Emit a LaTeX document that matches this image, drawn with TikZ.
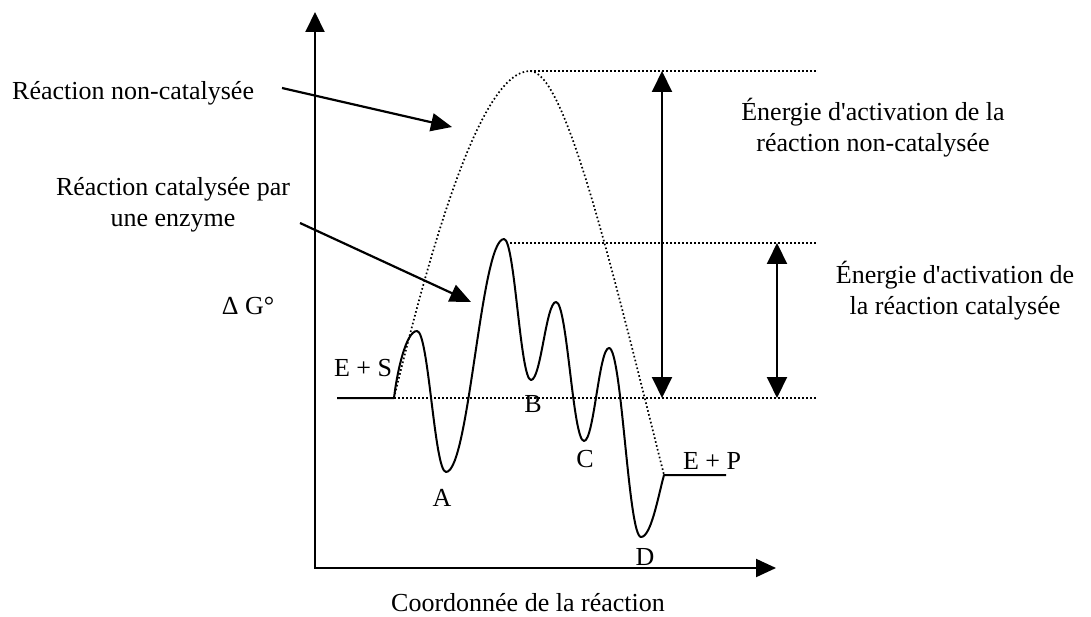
\documentclass[tikz,border=0pt]{standalone}
\usepackage{fontspec}
\setmainfont{Liberation Serif}[Ligatures=TeXOff]
\usetikzlibrary{arrows.meta}
\begin{document}
\begin{tikzpicture}[x=1pt,y=-1pt,
  lbl/.style={inner sep=0pt, font=\fontsize{26}{31}\selectfont},
  axes/.style={line width=2pt, {Triangle[length=20pt,width=19pt]}-{Triangle[length=20pt,width=18pt]}},
  solidc/.style={line width=2pt, line join=round},
  dotc/.style={line width=1.7pt, dash pattern=on 1.6pt off 2.4pt},
  dbl/.style={line width=2pt, {Triangle[length=21pt,width=20pt]}-{Triangle[length=21pt,width=20pt]}},
  ptr/.style={line width=2.2pt, -{Triangle[length=21pt,width=18pt]}}]

\useasboundingbox (0,0) rectangle (1091,617);

% axes
\coordinate (o) at (315,568);
\coordinate (ytip) at (315,12);
\coordinate (xtip) at (776,568);
\draw[axes] (ytip) -- (o) -- (xtip);

% curve points
\coordinate (s0) at (337,398);
\coordinate (s1) at (394,398);
\coordinate (p1) at (417,331);
\coordinate (a) at (446,472);
\coordinate (p2) at (504,239);
\coordinate (b) at (531,380);
\coordinate (p3) at (556,302);
\coordinate (c) at (584,441);
\coordinate (p4) at (609,348);
\coordinate (d) at (641,537);
\coordinate (e) at (664,475);
\coordinate (e2) at (726,475);

% catalysed (solid) curve
\draw[solidc] (s0) -- (s1)
  .. controls (397,372) and (406,331) .. (p1)
  .. controls (428.6,331) and (434.4,472) .. (a)
  .. controls (469.2,472) and (480.8,239) .. (p2)
  .. controls (514.8,239) and (520.2,380) .. (b)
  .. controls (541,380) and (546,302) .. (p3)
  .. controls (567.2,302) and (572.8,441) .. (c)
  .. controls (594,441) and (599,348) .. (p4)
  .. controls (621.8,348) and (628.2,537) .. (d)
  .. controls (651,537) and (658,497) .. (e) -- (e2);

% non-catalysed (dotted) curve
\coordinate (top) at (530,71);
\draw[dotc] (s1) .. controls (430,250) and (480,71) .. (top)
  .. controls (565,71) and (610,260) .. (e);

% dotted level lines
\coordinate (topR) at (817,71);
\coordinate (midL) at (510,243);
\coordinate (midR) at (817,243);
\coordinate (baseR) at (817,398);
\draw[dotc] (top) -- (topR);
\draw[dotc] (midL) -- (midR);
\draw[dotc] (s1) -- (baseR);

% double arrows
\coordinate (u1) at (662,71);
\coordinate (u2) at (662,398);
\coordinate (v1) at (777,243);
\coordinate (v2) at (777,398);
\draw[dbl] (u1) -- (u2);
\draw[dbl] (v1) -- (v2);

% labels
\node[lbl, anchor=west] (tnc) at (12,93) {Réaction non-catalysée};
\node[lbl, align=center] (tc) at (173,205) {Réaction catalysée par\\une enzyme};
\node[lbl] (dg) at (248,306) {Δ G°};
\node[lbl, align=center] (enc) at (873,128) {Énergie d'activation de la\\réaction non-catalysée};
\node[lbl, align=center] (ec) at (955,291) {Énergie d'activation de\\la réaction catalysée};
\node[lbl] (les) at (363,368) {E + S};
\node[lbl] (la) at (442,498) {A};
\node[lbl] (lb) at (533,404) {B};
\node[lbl] (lc) at (585,459) {C};
\node[lbl] (ld) at (645,557) {D};
\node[lbl] (lep) at (712,461) {E + P};
\node[lbl] (xl) at (528,603) {Coordonnée de la réaction};

% pointer arrows
\coordinate (n1) at (282,88);
\coordinate (n2) at (452,127);
\coordinate (k1) at (300,223);
\coordinate (k2) at (471,302);
\draw[ptr] (n1) -- (n2);
\draw[ptr] (k1) -- (k2);
\end{tikzpicture}
\end{document}
